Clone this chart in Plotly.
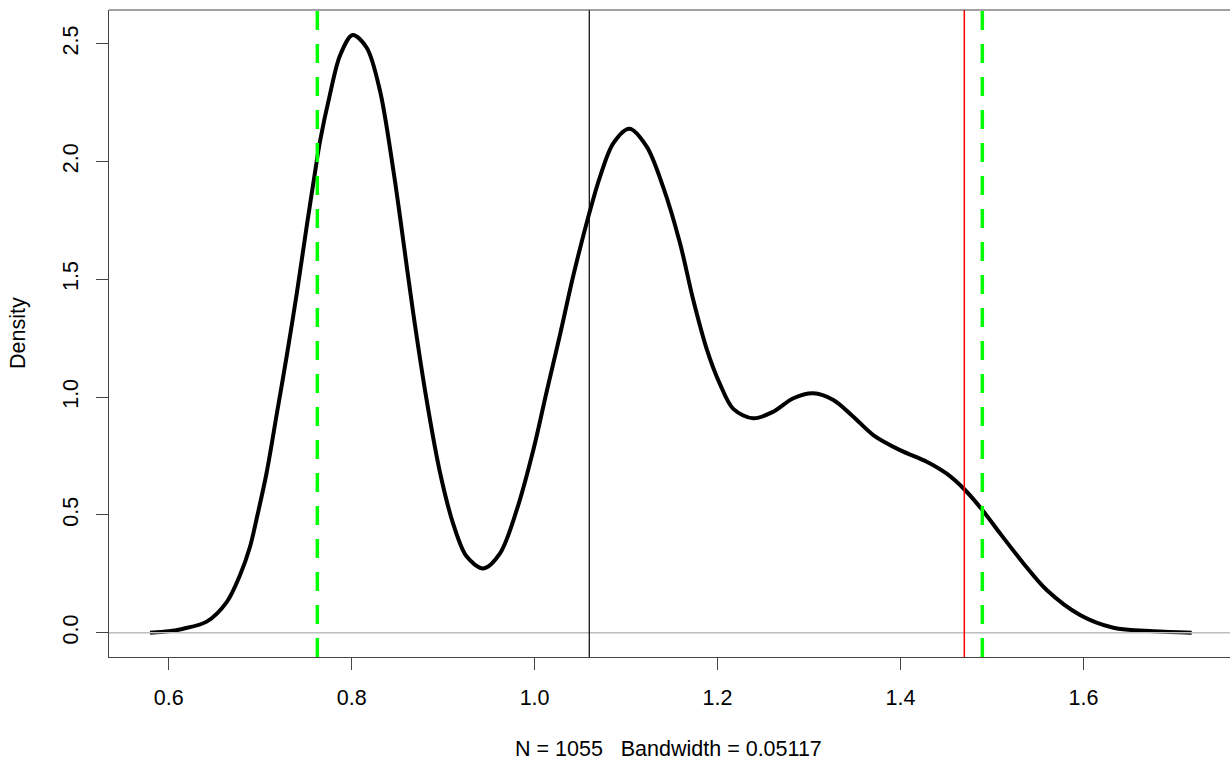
import plotly.graph_objects as go

# Kernel density estimate (N = 1055, bandwidth = 0.05117), evaluated points
x_vals = [0.5796, 0.600, 0.616, 0.6415, 0.6634, 0.678, 0.6889, 0.6962, 0.7071, 0.718,
          0.729, 0.740, 0.751, 0.760, 0.7654, 0.7763, 0.7873, 0.8011, 0.8165, 0.831,
          0.8456, 0.8529, 0.8674, 0.8821, 0.8966, 0.9112, 0.9258, 0.944, 0.9622, 0.9805,
          0.9986, 1.0133, 1.0278, 1.0423, 1.0598, 1.0715, 1.086, 1.1036, 1.1226, 1.1407,
          1.159, 1.1735, 1.1881, 1.2027, 1.2172, 1.2391, 1.261, 1.2829, 1.3047, 1.3266,
          1.3485, 1.3703, 1.3995, 1.4287, 1.4506, 1.4698, 1.4895, 1.5088, 1.5343, 1.5599,
          1.5963, 1.6327, 1.6764, 1.7184]
density = [0.0, 0.006, 0.017, 0.047, 0.13, 0.245, 0.365, 0.485, 0.68, 0.925,
           1.174, 1.44, 1.728, 1.955, 2.085, 2.285, 2.45, 2.537, 2.483, 2.30,
           1.963, 1.765, 1.355, 0.985, 0.68, 0.46, 0.323, 0.273, 0.337, 0.521,
           0.775, 1.025, 1.265, 1.515, 1.78, 1.935, 2.077, 2.139, 2.063, 1.89,
           1.653, 1.412, 1.205, 1.055, 0.95, 0.91, 0.938, 0.995, 1.016, 0.988,
           0.917, 0.839, 0.775, 0.726, 0.675, 0.609, 0.521, 0.422, 0.295, 0.181,
           0.075, 0.021, 0.006, 0.0]

# Reference lines
quantile_lo = 0.7625
center_line = 1.0598
red_line = 1.4698
quantile_hi = 1.4895

x_ticks = [0.6, 0.8, 1.0, 1.2, 1.4, 1.6]
x_ticktext = ["0.6", "0.8", "1.0", "1.2", "1.4", "1.6"]
y_ticks = [0.0, 0.5, 1.0, 1.5, 2.0, 2.5]
y_ticktext = ["0.0", "0.5", "1.0", "1.5", "2.0", "2.5"]

x_title = "N = 1055   Bandwidth = 0.05117"
y_title = "Density"

FONT = "Liberation Sans, Arial, sans-serif"
FS = 21.5
AXIS_COL = "#444444"

fig = go.Figure()
fig.add_trace(go.Scatter(
    x=x_vals, y=density, mode="lines",
    line=dict(color="black", width=4, shape="spline", smoothing=0.9),
    hoverinfo="skip", showlegend=False,
))

shapes = [
    # zero line
    dict(type="line", xref="paper", yref="y", x0=0, x1=1, y0=0, y1=0,
         line=dict(color="#BEBEBE", width=1.5), layer="above"),
    # vertical reference lines
    dict(type="line", xref="x", yref="paper", x0=quantile_lo, x1=quantile_lo, y0=0, y1=1,
         line=dict(color="#00FF00", width=3.5, dash="19px,14px"), layer="above"),
    dict(type="line", xref="x", yref="paper", x0=quantile_hi, x1=quantile_hi, y0=0, y1=1,
         line=dict(color="#00FF00", width=3.5, dash="19px,14px"), layer="above"),
    dict(type="line", xref="x", yref="paper", x0=center_line, x1=center_line, y0=0, y1=1,
         line=dict(color="black", width=1.2), layer="above"),
    dict(type="line", xref="x", yref="paper", x0=red_line, x1=red_line, y0=0, y1=1,
         line=dict(color="#FF0000", width=1.5), layer="above"),
    # top edge of the box
    dict(type="line", xref="paper", yref="paper", x0=0, x1=1, y0=1, y1=1,
         line=dict(color=AXIS_COL, width=1.2), layer="above"),
]

annotations = [
    dict(text=y_title, xref="paper", yref="paper", x=-0.0816, y=0.5, textangle=-90,
         showarrow=False, font=dict(family=FONT, size=FS, color="black"),
         xanchor="center", yanchor="middle"),
    dict(text=x_title, xref="paper", yref="paper", x=0.4995, y=-0.1422,
         showarrow=False, font=dict(family=FONT, size=FS, color="black"),
         xanchor="center", yanchor="middle"),
]

fig.update_layout(
    width=1230, height=760,
    margin=dict(l=109, r=0, t=10, b=103),
    paper_bgcolor="white", plot_bgcolor="white",
    shapes=shapes, annotations=annotations,
    font=dict(family=FONT, size=FS, color="black"),
    xaxis=dict(
        range=[0.53473, 1.76027], tickvals=x_ticks, ticktext=x_ticktext,
        showgrid=False, zeroline=False, showline=True, linecolor=AXIS_COL, linewidth=1.2,
        ticks="outside", ticklen=12, tickcolor=AXIS_COL, tickwidth=1.2,
        tickfont=dict(family=FONT, size=FS, color="black"), ticklabelstandoff=9,
    ),
    yaxis=dict(
        range=[-0.1031, 2.6430], tickvals=y_ticks, ticktext=y_ticktext,
        showgrid=False, zeroline=False, showline=True, linecolor=AXIS_COL, linewidth=1.2,
        ticks="outside", ticklen=12, tickcolor=AXIS_COL, tickwidth=1.2, tickangle=-90,
        tickfont=dict(family=FONT, size=FS, color="black"), ticklabelstandoff=9,
    ),
)

fig.write_html("out.html")
